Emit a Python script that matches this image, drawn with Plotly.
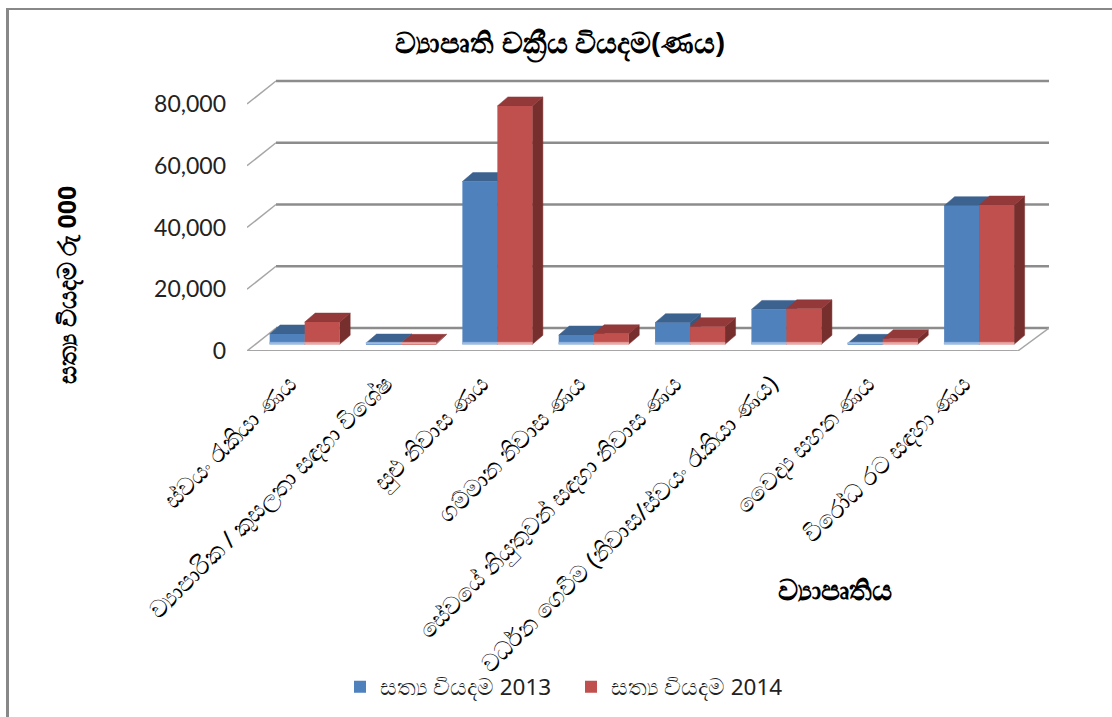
import plotly.graph_objects as go

TITLE = "ව්‍යාපෘති චක්‍රීය වියදම(ණය)"
Y_TITLE = "සත්‍ය වියදම රු 000"
X_TITLE = "ව්‍යාපෘතිය"
categories = [
    "ස්වයං රැකියා ණය",
    "ව්‍යාපාරික / කුසලතා සඳහා විශේෂ",
    "සුළු නිවාස ණය",
    "ගම්මාන නිවාස ණය",
    "සේවයේ නියුතුවන් සඳහා නිවාස ණය",
    "වර්ධන ගෙවීම (නිවාස/ස්වයං රැකියා ණය)",
    "වෛද්‍ය සහන ණය",
    "විරෝධ රට සඳහා ණය",
]
actual_2013 = [3350, 400, 52700, 3000, 7000, 11300, 300, 44900]
actual_2014 = [7200, 300, 77200, 3400, 5700, 11500, 1800, 45100]
name_2013 = "සත්‍ය වියදම 2013"
name_2014 = "සත්‍ය වියදම 2014"
y_ticks = [0, 20000, 40000, 60000, 80000]

FONT = "Noto Sans, DejaVu Serif, serif"
W, H = 1112, 717
LEFT, RIGHT, TOP, BOTTOM = 247, 1049, 77, 351
PX_X = 96.35          # pixels per category
PX_Y = 61.75 / 20000  # pixels per value unit
WALL_DX, WALL_DY = 29 / PX_X, 23 / PX_Y
BAR_W = 35 / PX_X
BAR_SHIFT = 9.5 / PX_X
BASE = 6.7 / PX_Y
D_DX, D_DY = 10.5 / PX_X, 9 / PX_Y
X_MAX = (RIGHT - LEFT) / PX_X
Y_MAX = (BOTTOM - TOP) / PX_Y
STRIP = 2 / PX_Y


def px(x):
    return (x - LEFT) / (RIGHT - LEFT)


def py(y):
    return (BOTTOM - y) / (BOTTOM - TOP)


fig = go.Figure()
shapes = []
GRID = "#8c8c8c"
for t in y_ticks:
    shapes.append(dict(type="line", layer="below", xref="x", yref="y", x0=WALL_DX, x1=X_MAX,
                       y0=t + WALL_DY, y1=t + WALL_DY, line=dict(color=GRID, width=2.5)))
    shapes.append(dict(type="line", layer="below", xref="x", yref="y", x0=0, x1=WALL_DX,
                       y0=t, y1=t + WALL_DY, line=dict(color="#a6a6a6", width=1.5)))
shapes.append(dict(type="line", layer="below", xref="x", yref="y", x0=0, x1=len(categories),
                   y0=0, y1=0, line=dict(color="#a6a6a6", width=2)))
shapes.append(dict(type="line", layer="below", xref="x", yref="y", x0=len(categories), x1=X_MAX,
                   y0=0, y1=WALL_DY, line=dict(color="#a6a6a6", width=1.5)))
# outer frame (top and left edges of the pasted chart)
shapes.append(dict(type="line", xref="paper", yref="paper", x0=px(6), x1=px(W), y0=py(9), y1=py(9),
                   line=dict(color="#888888", width=2)))
shapes.append(dict(type="line", xref="paper", yref="paper", x0=px(7.5), x1=px(7.5), y0=py(8), y1=py(H),
                   line=dict(color="#888888", width=3)))


def poly(xs, ys, color, axes=("x", "y")):
    fig.add_trace(go.Scatter(x=xs + xs[:1], y=ys + ys[:1], mode="lines", fill="toself",
                             fillcolor=color, line=dict(color=color, width=0.5),
                             hoverinfo="skip", showlegend=False, xaxis=axes[0], yaxis=axes[1]))


series = [
    (name_2013, actual_2013, "#4F81BD", "#3C6290", "#36587F", "#9DBDE3", -BAR_W),
    (name_2014, actual_2014, "#C0504D", "#93393A", "#772F2D", "#E9A9A7", 0),
]

# depth faces, drawn back to front on the main axes
for name, vals, front, top, side, strip, off in series:
    for i, v in enumerate(vals):
        x0 = i + 0.5 + BAR_SHIFT + off
        x1 = x0 + BAR_W
        yb, yt = BASE, BASE + v
        poly([x1, x1 + D_DX, x1 + D_DX, x1], [yb, yb + D_DY, yt + D_DY, yt], side)
        poly([x0, x1, x1 + D_DX, x0 + D_DX], [yt, yt, yt + D_DY, yt + D_DY], top)

# front faces on an overlaid pair of axes, so they hide the faces behind them
xs_center = [i + 0.5 + BAR_SHIFT for i in range(len(categories))]
for name, vals, front, top, side, strip, off in series:
    fig.add_trace(go.Bar(x=xs_center, y=vals, base=[BASE] * len(vals), name=name, width=BAR_W,
                         offset=off, marker=dict(color=front, line=dict(width=0)),
                         xaxis="x2", yaxis="y2"))
for name, vals, front, top, side, strip, off in series:
    for i, v in enumerate(vals):
        x0 = i + 0.5 + BAR_SHIFT + off
        poly([x0, x0 + BAR_W, x0 + BAR_W, x0], [BASE, BASE, BASE + STRIP, BASE + STRIP], strip, ("x2", "y2"))

fig.update_layout(
    width=W, height=H, autosize=False,
    paper_bgcolor="white", plot_bgcolor="white",
    margin=dict(l=LEFT, r=W - RIGHT, t=TOP, b=H - BOTTOM, autoexpand=False),
    font=dict(family=FONT, color="black", size=16),
    title=dict(text=f"<b>{TITLE}</b>", x=560 / W, xanchor="center", y=1 - 43 / H, yanchor="middle",
               font=dict(size=29, family=FONT, color="black")),
    barmode="overlay",
    shapes=shapes,
    showlegend=True,
    legend=dict(orientation="h", x=px(340), xanchor="left", y=py(687), yanchor="middle",
                font=dict(size=22.5, family=FONT, color="#222222"), itemwidth=30, entrywidth=186,
                entrywidthmode="pixels", traceorder="normal", bgcolor="rgba(0,0,0,0)"),
    xaxis=dict(range=[0, X_MAX], showgrid=False, zeroline=False, showline=False,
               tickmode="array", tickvals=[i + 0.5 for i in range(len(categories))], ticktext=categories,
               tickangle=-45, ticks="", ticklabelstandoff=13, ticklabelshift=-6,
               tickfont=dict(size=24, family=FONT, color="black")),
    yaxis=dict(range=[0, Y_MAX], showgrid=False, zeroline=False, showline=False,
               tickmode="array", tickvals=y_ticks, ticktext=[f"{t:,}" for t in y_ticks], ticks="",
               ticklabelstandoff=20,
               tickfont=dict(size=23, family="Lato", color="#222222")),
    xaxis2=dict(range=[0, X_MAX], overlaying="x", visible=False, matches="x"),
    yaxis2=dict(range=[0, Y_MAX], overlaying="y", visible=False, matches="y"),
    annotations=[
        dict(text=f"<b>{Y_TITLE}</b>", xref="paper", yref="paper", x=px(66), y=py(285), showarrow=False,
             xanchor="center", yanchor="middle", textangle=-90,
             font=dict(size=25, family=FONT, color="black")),
        dict(text=f"<b>{X_TITLE}</b>", xref="paper", yref="paper", x=px(835), y=py(589), showarrow=False,
             xanchor="center", yanchor="middle",
             font=dict(size=28, family=FONT, color="black")),
    ],
)
fig.write_html("out.html", config={"displayModeBar": False},
               post_script="document.body.style.margin='0';document.body.style.overflow='hidden';")
